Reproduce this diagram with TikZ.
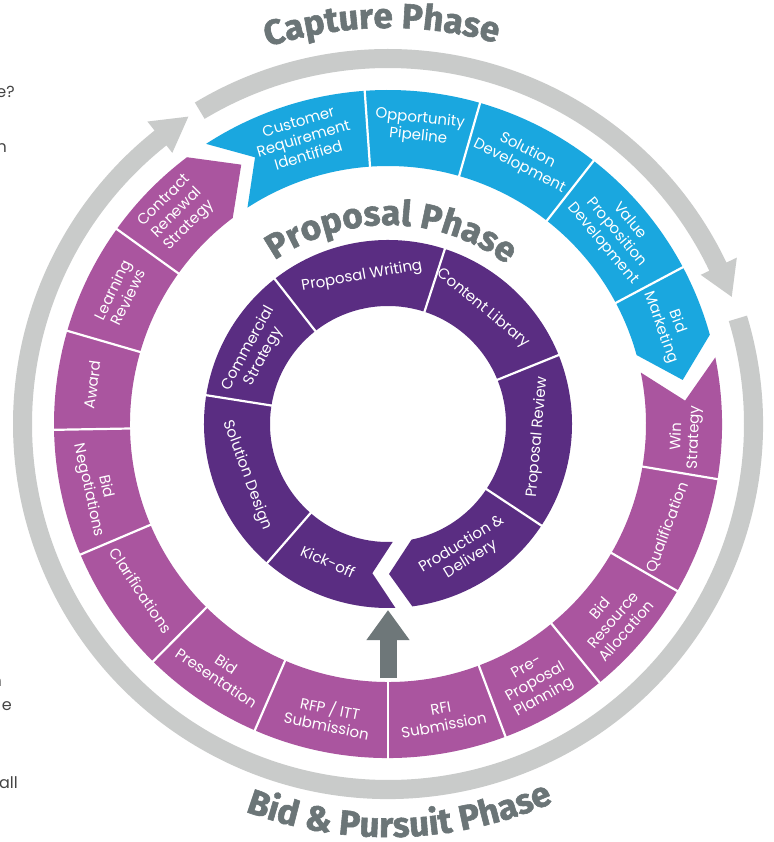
\documentclass[tikz,border=0pt]{standalone}
\usepackage{fontspec}
\usetikzlibrary{decorations.text,arrows.meta}
\newfontfamily\labfont{Poppins}
\newfontfamily\headfont{Fira Sans}[BoldFeatures={FakeBold=1.6}]
\definecolor{capblue}{HTML}{1AA7DF}
\definecolor{bidpurple}{HTML}{AA559F}
\definecolor{proppurple}{HTML}{5A2D82}
\definecolor{ringgrey}{HTML}{C9CBCA}
\definecolor{headgrey}{HTML}{6B7577}
\definecolor{arrowgrey}{HTML}{6E7779}
\definecolor{sidetext}{HTML}{444444}
\newcommand\capfont{\headfont\bfseries\fontsize{35}{40}\selectfont\color{headgrey}}
\newcommand\propfont{\headfont\bfseries\fontsize{35}{40}\selectfont\color{headgrey}}
\tikzset{
  olab/.style={text=white, font=\labfont\fontsize{15}{17.5}\selectfont, align=center, inner sep=0pt},
  ilab/.style={text=white, font=\labfont\fontsize{15}{17.5}\selectfont, align=center, inner sep=0pt},
  divider/.style={white, line width=2.2pt},
  sidelab/.style={text=sidetext, font=\labfont\fontsize{16}{19}\selectfont, inner sep=0pt, anchor=base east},
  centerarrow/.style={arrowgrey, line width=17pt, -{Triangle[width=41pt,length=30pt]}}
}
\begin{document}
\begin{tikzpicture}
\path[use as bounding box, fill=white] (-388pt,-418pt) rectangle (385pt,424pt);

% grey phase ring arrows
\fill[ringgrey] (121:375pt) arc[start angle=121, end angle=25.5, radius=375pt]
  -- (25.5:386.5pt) -- (20.3:366.5pt) -- (25.5:346.5pt) -- (25.5:356pt)
  arc[start angle=25.5, end angle=121, radius=356pt] -- cycle;
\fill[ringgrey] (16.8:375pt) arc[start angle=16.8, end angle=-231.5, radius=375pt]
  -- (-231.5:386.5pt) -- (-237:366.5pt) -- (-231.5:346.5pt) -- (-231.5:356pt)
  arc[start angle=-231.5, end angle=16.8, radius=356pt] -- cycle;

% outer coloured ring
\fill[capblue] (123:334pt) arc[start angle=123, end angle=15.5, radius=334pt]
  -- (8.5:298pt) -- (15.5:258pt) arc[start angle=15.5, end angle=123, radius=258pt]
  -- (116.5:298pt) -- cycle;
\fill[bidpurple] (11.5:334pt) arc[start angle=11.5, end angle=-233, radius=334pt]
  -- (-240.5:298pt) -- (-233:258pt) arc[start angle=-233, end angle=11.5, radius=258pt]
  -- (4.5:298pt) -- cycle;
\foreach \a in {94,74,52,28,-9.5,-30,-50.7,-69.4,-90,-113.5,-134.7,-157,-179,-196.2,-215.7}
  \draw[divider] (\a:256pt) -- (\a:336pt);

% inner proposal ring
\fill[proppurple] (-82.4:184pt) arc[start angle=-82.4, end angle=272.3, radius=184pt]
  -- (264:150pt) -- (272.3:118pt) arc[start angle=272.3, end angle=-78.5, radius=118pt]
  -- (-89.6:150pt) -- cycle;
\foreach \a in {229,171,128,72,22,-33.5}
  \draw[divider] (\a:116pt) -- (\a:186pt);

% outer labels
\node[olab, rotate=16.5] (cri) at (106.5:298pt) {Customer\\Requirement\\Identified};
\node[olab, rotate=-6] (opp) at (84:298pt) {Opportunity\\Pipeline};
\node[olab, rotate=-27] (sol) at (63:298pt) {Solution\\Development};
\node[olab, rotate=-50] (vpd) at (40:298pt) {Value\\Proposition\\Development};
\node[olab, rotate=-70.5] (bm) at (19.5:298pt) {Bid\\Marketing};
\node[olab, rotate=87.5] (win) at (-2.5:298pt) {Win\\Strategy};
\node[olab, rotate=69.7] (qual) at (-20.3:298pt) {Qualification};
\node[olab, rotate=49] (bra) at (-41:298pt) {Bid\\Resource\\Allocation};
\node[olab, rotate=29.7] (ppp) at (-60.3:298pt) {Pre-\\Proposal\\Planning};
\node[olab, rotate=10.5] (rfi) at (-79.5:298pt) {RFI\\Submission};
\node[olab, rotate=-11.5] (rfp) at (-101.5:298pt) {RFP / ITT\\Submission};
\node[olab, rotate=-34] (bp) at (-124:298pt) {Bid\\Presentation};
\node[olab, rotate=-56] (clar) at (-146:298pt) {Clarifications};
\node[olab, rotate=-77.5] (bn) at (-167.5:298pt) {Bid\\Negotiations};
\node[olab, rotate=82.5] (award) at (172.5:298pt) {Award};
\node[olab, rotate=64] (lr) at (154:298pt) {Learning\\Reviews};
\node[olab, rotate=45] (crs) at (135:298pt) {Contract\\Renewal\\Strategy};

% inner labels
\node[ilab, rotate=-23.6] (ko) at (-113.6:150pt) {Kick-off};
\node[ilab, rotate=-70] (sd) at (200:150pt) {Solution Design};
\node[ilab, rotate=61.5] (cs) at (151.5:150pt) {Commercial\\Strategy};
\node[ilab, rotate=10] (pw) at (100:150pt) {Proposal Writing};
\node[ilab, rotate=-39.5] (cl) at (50.5:150pt) {Content Library};
\node[ilab, rotate=85] (pr) at (-5:150pt) {Proposal Review};
\node[ilab, rotate=31.4] (pd) at (-58.6:150pt) {Production \&\\Delivery};

% centre arrow
\coordinate (arrowbase) at (0pt,-254pt);
\coordinate (arrowtip) at (0pt,-186pt);
\draw[centerarrow] (arrowbase) -- (arrowtip);

% phase titles
\path[decorate, decoration={text along path, text align=center,
  text={|\capfont|Capture Phase}}]
  (150.9:396pt) arc[start angle=150.9, end angle=30.9, radius=396pt];
\path[decorate, decoration={text along path, text align=center,
  text={|\propfont|Proposal Phase}}]
  (149:199pt) arc[start angle=149, end angle=29, radius=199pt];
\path[decorate, decoration={text along path, text align=center,
  text={|\capfont|Bid {\&} Pursuit Phase}}]
  (201.7:413pt) arc[start angle=201.7, end angle=341.7, radius=413pt];

% cut-off side text
\node[sidelab] (s1) at (-373pt,326pt) {e?};
\node[sidelab] (s2) at (-381pt,271pt) {n};
\node[sidelab] (s3) at (-386pt,-262pt) {n};
\node[sidelab] (s4) at (-376pt,-286pt) {e};
\node[sidelab] (s5) at (-370pt,-364pt) {all};
\end{tikzpicture}
\end{document}
